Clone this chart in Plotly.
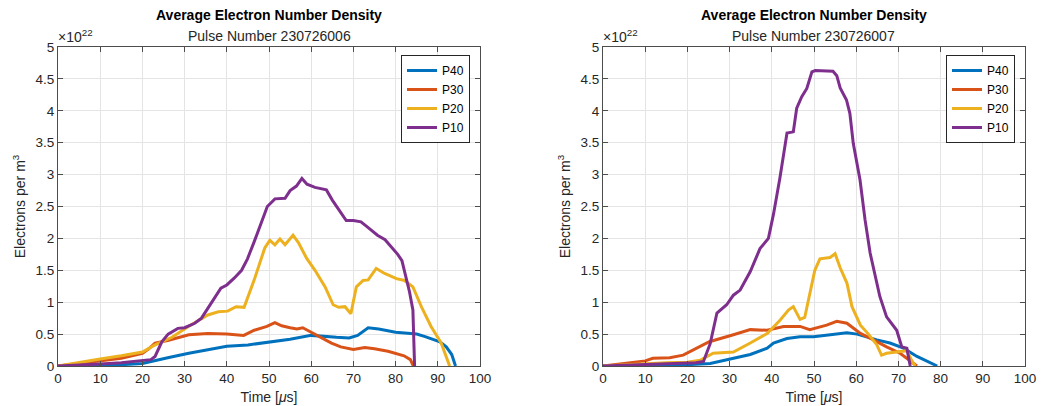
import plotly.graph_objects as go

# Average electron number density (units of 1e22 m^-3) vs time in microseconds
# Pulse 230726006
t40_a = [0, 5, 10, 15, 20, 23, 26, 31, 35.5, 40, 45, 50, 55, 60, 63, 66, 69, 71, 73.5, 76, 80, 83, 85, 87, 89, 90.5, 92, 93.3, 94.2]
n40_a = [0, 0.005, 0.01, 0.02, 0.04, 0.08, 0.13, 0.2, 0.25, 0.31, 0.33, 0.37, 0.42, 0.48, 0.46, 0.45, 0.44, 0.48, 0.6, 0.58, 0.53, 0.51, 0.5, 0.46, 0.42, 0.38, 0.3, 0.18, 0.0]

t30_a = [0, 5, 10, 15, 20, 21.5, 23, 26, 31, 35.5, 40, 44, 46.5, 49.5, 51.4, 53, 55, 56.6, 58, 60.2, 62.5, 64.8, 67, 70, 72.7, 75, 78.2, 80, 82, 83.5, 84.2]
n30_a = [0, 0.04, 0.08, 0.12, 0.2, 0.27, 0.36, 0.4, 0.49, 0.51, 0.5, 0.48, 0.56, 0.62, 0.68, 0.63, 0.6, 0.58, 0.6, 0.52, 0.44, 0.36, 0.3, 0.26, 0.29, 0.27, 0.23, 0.2, 0.16, 0.1, 0.0]

t20_a = [0, 5, 10, 15, 20, 23, 27, 30.9, 35.5, 38, 40.2, 42.2, 44.1, 46.5, 48, 49, 50.2, 51.4, 52.6, 53.8, 55.7, 57, 58.9, 60.9, 63.3, 65.2, 66.5, 68, 69.4, 70.7, 72.3, 73.5, 75.4, 77.4, 80.2, 82.1, 84.1, 86.1, 88.4, 90.8, 92.8]
n20_a = [0, 0.06, 0.11, 0.16, 0.22, 0.33, 0.45, 0.62, 0.8, 0.85, 0.86, 0.93, 0.92, 1.35, 1.65, 1.85, 1.97, 1.9, 1.99, 1.9, 2.05, 1.93, 1.69, 1.5, 1.24, 0.96, 0.92, 0.93, 0.82, 1.24, 1.34, 1.35, 1.53, 1.45, 1.37, 1.34, 1.24, 0.93, 0.62, 0.36, 0.0]

t10_a = [0, 5, 10, 15, 20, 22, 23, 24.6, 26.1, 28.4, 30, 32.4, 34, 35.5, 37, 38.6, 40, 41.8, 43.5, 44.9, 46.5, 48.1, 49.6, 51.4, 53.8, 55, 56.5, 57.8, 59, 60.9, 63.6, 65, 66.5, 68.3, 70, 71.8, 73.5, 75.7, 77.5, 78.5, 79.5, 80.5, 81.5, 82.1, 83.3, 84.1, 84.3, 84.5]
n10_a = [0, 0.01, 0.03, 0.05, 0.08, 0.1, 0.15, 0.38, 0.5, 0.59, 0.6, 0.67, 0.75, 0.9, 1.05, 1.22, 1.27, 1.38, 1.5, 1.68, 1.95, 2.24, 2.5, 2.62, 2.63, 2.75, 2.82, 2.94, 2.85, 2.8, 2.76, 2.6, 2.45, 2.28, 2.28, 2.26, 2.17, 2.05, 1.98, 1.9, 1.82, 1.75, 1.65, 1.5, 1.16, 0.88, 0.4, 0.0]

# Pulse 230726007
t40_b = [0, 5, 10, 15, 20, 25.4, 30.9, 34.9, 38.9, 40.4, 43.6, 46.7, 49.9, 53, 57.8, 60.2, 62.5, 64.9, 68, 71.2, 74.4, 76.8, 79.2]
n40_b = [0, 0.005, 0.01, 0.015, 0.02, 0.04, 0.12, 0.18, 0.28, 0.36, 0.43, 0.46, 0.46, 0.48, 0.52, 0.5, 0.45, 0.41, 0.36, 0.28, 0.15, 0.07, 0.0]

t30_b = [0, 5, 10, 11.8, 15.8, 19, 21.3, 25.2, 30.9, 34.9, 38.9, 42.8, 46.7, 49, 53, 55.4, 57.8, 61, 64.1, 67.2, 70.4, 72.8, 74.4]
n30_b = [0, 0.04, 0.08, 0.12, 0.13, 0.17, 0.25, 0.38, 0.49, 0.57, 0.56, 0.62, 0.62, 0.57, 0.64, 0.7, 0.67, 0.51, 0.41, 0.3, 0.2, 0.08, 0.0]

t20_b = [0, 5, 10, 15, 20, 23, 26.1, 30.9, 34.9, 38.9, 42, 44, 45.1, 46.7, 47.8, 49, 50.2, 51.4, 53.8, 55, 56.2, 57.8, 59, 61, 62.9, 64.9, 66, 67.2, 69.6, 72, 73.2, 74]
n20_b = [0, 0.02, 0.04, 0.05, 0.06, 0.09, 0.2, 0.22, 0.36, 0.51, 0.72, 0.88, 0.93, 0.73, 0.76, 1.15, 1.5, 1.68, 1.7, 1.76, 1.54, 1.3, 0.93, 0.64, 0.5, 0.33, 0.17, 0.2, 0.22, 0.24, 0.08, 0.0]

t10_b = [0, 5, 10, 15, 20, 22, 23.8, 25.4, 27, 29.3, 30.9, 32.5, 34.9, 37.2, 39.2, 40.4, 41.9, 42.7, 43.6, 45.1, 45.9, 47.1, 48.3, 49.5, 50.3, 54.5, 55.4, 56.2, 57.7, 58.5, 59.3, 60.9, 62.1, 63.3, 65.6, 67.2, 69.6, 70.8, 72, 72.8]
n10_b = [0, 0.01, 0.02, 0.03, 0.04, 0.05, 0.07, 0.35, 0.83, 0.96, 1.11, 1.19, 1.48, 1.84, 2.0, 2.38, 2.94, 3.31, 3.65, 3.67, 4.04, 4.22, 4.35, 4.61, 4.63, 4.62, 4.55, 4.36, 4.17, 3.96, 3.49, 2.92, 2.29, 1.77, 1.09, 0.77, 0.56, 0.30, 0.28, 0.0]

series_names = ["P40", "P30", "P20", "P10"]
colors = ["#0072BD", "#D95319", "#EDB120", "#7E2F8E"]
pulses = ["230726006", "230726007"]
panel_data = [
    [(t40_a, n40_a), (t30_a, n30_a), (t20_a, n20_a), (t10_a, n10_a)],
    [(t40_b, n40_b), (t30_b, n30_b), (t20_b, n20_b), (t10_b, n10_b)],
]

x_ticks = list(range(0, 101, 10))
y_ticks = [0, 0.5, 1, 1.5, 2, 2.5, 3, 3.5, 4, 4.5, 5]
y_ticktext = ["0", "0.5", "1", "1.5", "2", "2.5", "3", "3.5", "4", "4.5", "5"]

FONT = "Liberation Sans, Arial, Helvetica, sans-serif"
TXT = "#262626"
W, H = 1042, 406
x_domains = [[58 / W, 480 / W], [603 / W, 1025 / W]]
y_domain = [40 / H, 359 / H]

fig = go.Figure()
for p, panel in enumerate(panel_data):
    xa = "x" if p == 0 else "x2"
    ya = "y" if p == 0 else "y2"
    lg = "legend" if p == 0 else "legend2"
    for (t, n), name, c in zip(panel, series_names, colors):
        fig.add_trace(go.Scatter(
            x=t, y=n, mode="lines", name=name, xaxis=xa, yaxis=ya,
            line=dict(color=c, width=3), legend=lg,
        ))

axis_common = dict(
    showline=True, linecolor="#4d4d4d", linewidth=1, mirror="ticks",
    ticks="inside", ticklen=5, tickcolor="#4d4d4d", tickwidth=1,
    showgrid=True, gridcolor="#e4e4e4", gridwidth=1, zeroline=False,
    automargin=False,
    tickfont=dict(family=FONT, size=13.5, color=TXT),
)

layout = dict(
    width=W, height=H,
    margin=dict(l=0, r=0, t=0, b=0, autoexpand=False),
    paper_bgcolor="white", plot_bgcolor="white",
    font=dict(family=FONT, color=TXT),
    annotations=[],
)

for p in range(2):
    sx = "" if p == 0 else "2"
    layout["xaxis" + sx] = dict(
        axis_common, domain=x_domains[p], range=[0, 100], tickvals=x_ticks,
        anchor="y" + sx,
        title=dict(text="Time [<i>μ</i>s]", font=dict(family=FONT, size=14, color=TXT), standoff=6),
    )
    layout["yaxis" + sx] = dict(
        axis_common, domain=y_domain, range=[0, 5], tickvals=y_ticks, ticktext=y_ticktext,
        anchor="x" + sx,
        title=dict(text="Electrons per m<sup>3</sup>", font=dict(family=FONT, size=14, color=TXT), standoff=6),
    )
    leg = "legend" if p == 0 else "legend2"
    layout[leg] = dict(
        x=(x_domains[p][1] * W - 10) / W, xanchor="right",
        y=(H - 55) / H, yanchor="top",
        bgcolor="white", bordercolor="#262626", borderwidth=1,
        font=dict(family=FONT, size=12, color="black"),
        traceorder="normal", tracegroupgap=0,
    )
    xc = (x_domains[p][0] + x_domains[p][1]) / 2
    layout["annotations"] += [
        dict(text="<b>Average Electron Number Density</b>", x=xc, y=(H - 15) / H,
             xref="paper", yref="paper", showarrow=False, xanchor="center", yanchor="middle",
             font=dict(family=FONT, size=14, color="black")),
        dict(text="Pulse Number " + pulses[p], x=xc, y=(H - 36) / H,
             xref="paper", yref="paper", showarrow=False, xanchor="center", yanchor="middle",
             font=dict(family=FONT, size=14, color=TXT)),
        dict(text="×10<sup>22</sup>", x=x_domains[p][0], y=y_domain[1],
             xref="paper", yref="paper", showarrow=False, xanchor="left", yanchor="bottom",
             xshift=-2, font=dict(family=FONT, size=14, color=TXT)),
    ]

fig.update_layout(**layout)
fig.write_html("out.html", config={"displayModeBar": False})
